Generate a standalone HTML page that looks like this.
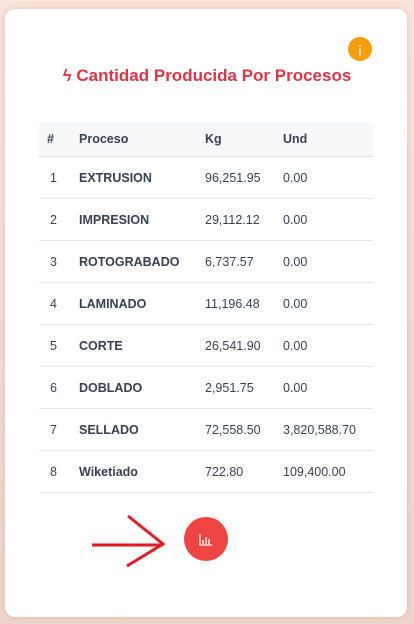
<!DOCTYPE html>
<html><head><meta charset="utf-8"><style>
body{margin:0;width:414px;height:624px;overflow:hidden;background:linear-gradient(180deg,#fbe5dc,#efd6cc);font-family:"Liberation Sans",sans-serif;}
.card{position:absolute;left:5px;top:9px;width:402px;height:608px;background:#fff;border-radius:10px;box-shadow:0 0 8px rgba(150,100,80,.25);}
.info{position:absolute;left:348px;top:37px;width:24px;height:24px;border-radius:50%;background:#f59e0b;color:#fff;font-size:15px;text-align:center;line-height:24px;}
.title{position:absolute;left:0;top:66px;width:414px;text-align:center;color:#dc3545;font-weight:bold;font-size:17px;}
table{position:absolute;left:39px;top:122px;width:334px;border-collapse:collapse;table-layout:fixed;font-size:12.5px;color:#374151;}
th{background:#f7f8fa;height:34px;padding:0;text-align:left;font-weight:bold;border-bottom:1px solid #dde1e7;}
tr.r{height:42px;}
td{padding:0;border-bottom:1px solid #e3e6ea;}
td:nth-child(2){font-weight:bold;}
.c1{padding-left:8px;}
td.c1{padding-left:11px;}
.btn{position:absolute;left:184px;top:517px;width:44px;height:44px;border-radius:50%;background:#ef4444;}
</style></head><body>
<div class="card"></div>
<div class="info">¡</div>
<div class="title">ϟ Cantidad Producida Por Procesos</div>
<table>
<colgroup><col style="width:40px"><col style="width:126px"><col style="width:78px"><col></colgroup>
<tr><th class="c1">#</th><th>Proceso</th><th>Kg</th><th>Und</th></tr>
<tr class="r"><td class="c1">1</td><td>EXTRUSION</td><td>96,251.95</td><td>0.00</td></tr>
<tr class="r"><td class="c1">2</td><td>IMPRESION</td><td>29,112.12</td><td>0.00</td></tr>
<tr class="r"><td class="c1">3</td><td>ROTOGRABADO</td><td>6,737.57</td><td>0.00</td></tr>
<tr class="r"><td class="c1">4</td><td>LAMINADO</td><td>11,196.48</td><td>0.00</td></tr>
<tr class="r"><td class="c1">5</td><td>CORTE</td><td>26,541.90</td><td>0.00</td></tr>
<tr class="r"><td class="c1">6</td><td>DOBLADO</td><td>2,951.75</td><td>0.00</td></tr>
<tr class="r"><td class="c1">7</td><td>SELLADO</td><td>72,558.50</td><td>3,820,588.70</td></tr>
<tr class="r"><td class="c1">8</td><td>Wiketiado</td><td>722.80</td><td>109,400.00</td></tr>
</table>
<svg style="position:absolute;left:0;top:0" width="414" height="624">
<path d="M92 545 H163 M128 516 L163 544 L127 566" stroke="#e31b23" stroke-width="3" fill="none"/>
</svg>
<div class="btn">
<svg width="44" height="44"><path d="M16 17 V28 H28 M19 27 V23 M22 27 V20 M25 27 V22" stroke="#fff" stroke-width="1.3" fill="none"/></svg>
</div>
</body></html>
